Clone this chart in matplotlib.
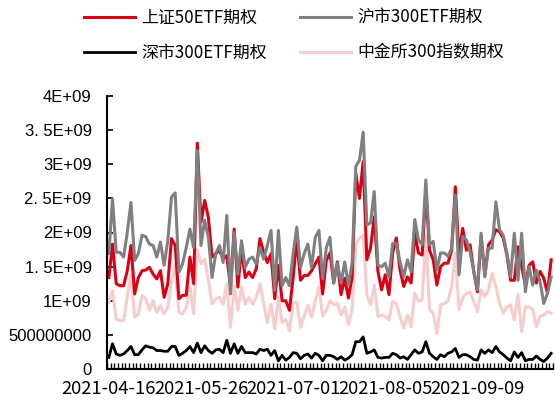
import matplotlib
matplotlib.use("Agg")
import matplotlib.pyplot as plt
from matplotlib.ticker import FixedLocator

# daily option turnover, units of 1e9
sz50_etf = [1.34, 1.83, 1.25, 1.22, 1.22, 1.44, 1.81, 1.10, 1.34, 1.44,
            1.45, 1.49, 1.39, 1.32, 1.44, 1.05, 1.25, 1.91, 1.81, 1.03,
            1.08, 1.08, 1.64, 1.25, 3.31, 2.15, 2.47, 2.22, 1.64, 1.69,
            1.74, 1.61, 1.66, 1.20, 2.05, 1.20, 1.76, 1.34, 1.42, 1.34,
            1.47, 1.91, 1.71, 1.56, 1.69, 1.03, 1.52, 1.00, 1.00, 0.86,
            1.34, 1.91, 1.30, 1.37, 1.37, 1.44, 1.54, 1.64, 1.10, 1.59,
            1.70,
            1.26, 1.57, 1.09, 1.33, 1.04, 1.35, 2.87, 2.50, 3.04, 1.60,
            1.77, 2.23, 1.43, 1.16, 1.38, 1.09, 1.70, 1.92, 1.45, 1.21,
            1.35, 1.26, 1.99, 1.70, 1.67, 2.62, 1.74, 1.60, 1.23, 1.50,
            1.55, 1.55, 1.74, 2.67, 1.67, 2.06, 1.74, 1.82, 1.43, 1.13,
            1.94, 1.38, 1.82, 1.89, 2.04, 2.01, 1.92, 1.67, 1.30, 1.30,
            1.79, 1.50, 1.23, 1.52, 1.57, 1.26, 1.43, 1.33, 1.11, 1.60]

sh300_etf = [1.69, 2.49, 1.71, 1.71, 1.64, 2.00, 2.44, 1.59, 1.69, 1.96,
             1.94, 1.83, 1.81, 1.64, 1.86, 1.52, 1.88, 2.52, 2.58, 1.42,
             1.54, 1.78, 2.05, 1.78, 3.20, 1.81, 2.18, 1.93, 1.34, 1.69,
             1.81, 1.56, 2.25, 1.10, 2.00, 1.39, 1.88, 1.49, 1.61, 1.64,
             1.54, 1.78, 1.61, 1.81, 2.03, 1.15, 2.03, 1.22, 1.34, 1.22,
             1.69, 2.08, 1.49, 1.69, 1.83, 1.49, 1.93, 2.03, 1.32, 1.78,
             1.93,
             1.26, 1.55, 1.26, 1.57, 1.23, 1.55, 2.97, 3.06, 3.47, 2.11,
             2.14, 2.60, 1.52, 1.50, 1.55, 1.35, 1.84, 1.84, 1.57, 1.35,
             1.60, 1.43, 2.19, 1.89, 1.82, 2.77, 1.82, 1.87, 1.45, 1.70,
             1.70, 1.65, 1.77, 2.55, 1.38, 1.94, 1.89, 1.72, 1.43, 1.16,
             1.99, 1.35, 1.77, 1.77, 2.45, 2.04, 1.96, 1.70, 1.35, 1.99,
             1.30, 1.99, 1.13, 1.50, 1.23, 1.45, 1.28, 0.96, 1.11, 1.35]

sz300_etf = [0.17, 0.37, 0.22, 0.20, 0.22, 0.27, 0.33, 0.21, 0.21, 0.28,
             0.34, 0.32, 0.31, 0.27, 0.27, 0.26, 0.26, 0.33, 0.33, 0.20,
             0.23, 0.27, 0.33, 0.24, 0.38, 0.24, 0.34, 0.27, 0.23, 0.28,
             0.29, 0.24, 0.42, 0.23, 0.37, 0.23, 0.33, 0.24, 0.24, 0.24,
             0.22, 0.29, 0.27, 0.29, 0.20, 0.27, 0.12, 0.20, 0.13, 0.17,
             0.24, 0.23, 0.15, 0.20, 0.22, 0.16, 0.23, 0.20, 0.12, 0.20,
             0.20,
             0.18, 0.14, 0.18, 0.13, 0.16, 0.21, 0.40, 0.40, 0.47, 0.23,
             0.25, 0.28, 0.17, 0.16, 0.17, 0.17, 0.23, 0.21, 0.16, 0.18,
             0.14, 0.21, 0.28, 0.23, 0.25, 0.40, 0.23, 0.18, 0.14, 0.21,
             0.18, 0.23, 0.25, 0.30, 0.17, 0.21, 0.21, 0.18, 0.14, 0.13,
             0.28, 0.23, 0.28, 0.24, 0.33, 0.25, 0.21, 0.16, 0.12, 0.25,
             0.17, 0.24, 0.12, 0.14, 0.14, 0.19, 0.14, 0.11, 0.16, 0.23]

cffex300 = [0.98, 1.15, 0.73, 0.71, 0.71, 1.05, 1.39, 0.76, 0.81, 1.08,
            1.03, 0.86, 1.00, 0.83, 0.93, 0.81, 0.90, 1.27, 1.54, 0.83,
            0.81, 0.90, 1.20, 0.81, 1.75, 1.54, 1.61, 1.30, 0.95, 1.03,
            1.05, 0.95, 1.25, 0.61, 1.22, 0.86, 1.20, 0.95, 1.05, 0.95,
            1.05, 1.25, 0.95, 0.68, 0.95, 0.59, 1.05, 0.68, 0.73, 0.56,
            0.98, 0.98, 0.61, 0.78, 0.93, 0.76, 1.00, 1.20, 0.78, 0.86,
            1.00,
            0.94, 0.96, 0.79, 0.91, 0.65, 0.87, 1.82, 1.92, 1.96, 1.09,
            0.94, 1.23, 0.77, 0.79, 0.77, 0.72, 0.99, 0.96, 0.77, 0.60,
            0.79, 0.62, 1.11, 0.99, 1.01, 1.96, 0.87, 0.82, 0.52, 0.94,
            0.96, 0.99, 1.21, 1.70, 0.87, 1.04, 1.11, 1.13, 0.99, 0.84,
            1.16, 1.06, 1.16, 1.40, 1.21, 0.96, 0.82, 0.91, 0.94, 0.72,
            1.09, 0.55, 0.91, 0.91, 0.87, 0.62, 0.77, 0.79, 0.84, 0.82]

date_ticks = [0, 25, 50, 75, 100]
date_labels = ["2021-04-16", "2021-05-26", "2021-07-01", "2021-08-05", "2021-09-09"]

y_ticks = [0, 0.5e9, 1e9, 1.5e9, 2e9, 2.5e9, 3e9, 3.5e9, 4e9]
y_labels = ["0", "500000000", "1E+09", "1. 5E+09", "2E+09", "2. 5E+09",
            "3E+09", "3. 5E+09", "4E+09"]

cjk = ["Noto Sans CJK SC", "DejaVu Sans"]
plt.rcParams["font.family"] = cjk

n = len(sz50_etf)
x = list(range(n))
scale = 1e9

fig = plt.figure(figsize=(5.55, 4.0), dpi=100)
ax = fig.add_axes([107 / 555, 31 / 400, 446 / 555, 273 / 400])

l4, = ax.plot(x, [v * scale for v in cffex300], color="#F6CCCC", lw=2.2, label="中金所300指数期权")
l3, = ax.plot(x, [v * scale for v in sz300_etf], color="#000000", lw=2.0, label="深市300ETF期权")
l1, = ax.plot(x, [v * scale for v in sz50_etf], color="#DC0014", lw=2.2, label="上证50ETF期权")
l2, = ax.plot(x, [v * scale for v in sh300_etf], color="#808080", lw=2.2, label="沪市300ETF期权")

ax.set_xlim(-0.5, n - 0.5)
ax.set_ylim(0, 4e9)

for side in ["top", "right"]:
    ax.spines[side].set_visible(False)
for side in ["left", "bottom"]:
    ax.spines[side].set_linewidth(1.5)

ax.set_yticks(y_ticks)
ax.set_yticklabels(y_labels, fontfamily="Liberation Sans", fontsize=12)
ax.tick_params(axis="y", direction="in", length=4, width=1.2, pad=11)

ax.set_xticks(date_ticks)
ax.set_xticklabels(date_labels, fontsize=13.3)
ax.xaxis.set_minor_locator(FixedLocator([i - 0.5 for i in range(n + 1)]))
ax.tick_params(axis="x", which="major", length=0, pad=8)
ax.tick_params(axis="x", which="minor", direction="in", length=4, width=1.0)

fig.legend(handles=[l1, l3, l2, l4], ncol=2, loc="center",
           bbox_to_anchor=(294 / 555, 1 - 35 / 400), frameon=False,
           fontsize=12.2, handlelength=3.0, handletextpad=0.35,
           columnspacing=2.0, labelspacing=1.0)

fig.savefig("out.png", dpi=100)
